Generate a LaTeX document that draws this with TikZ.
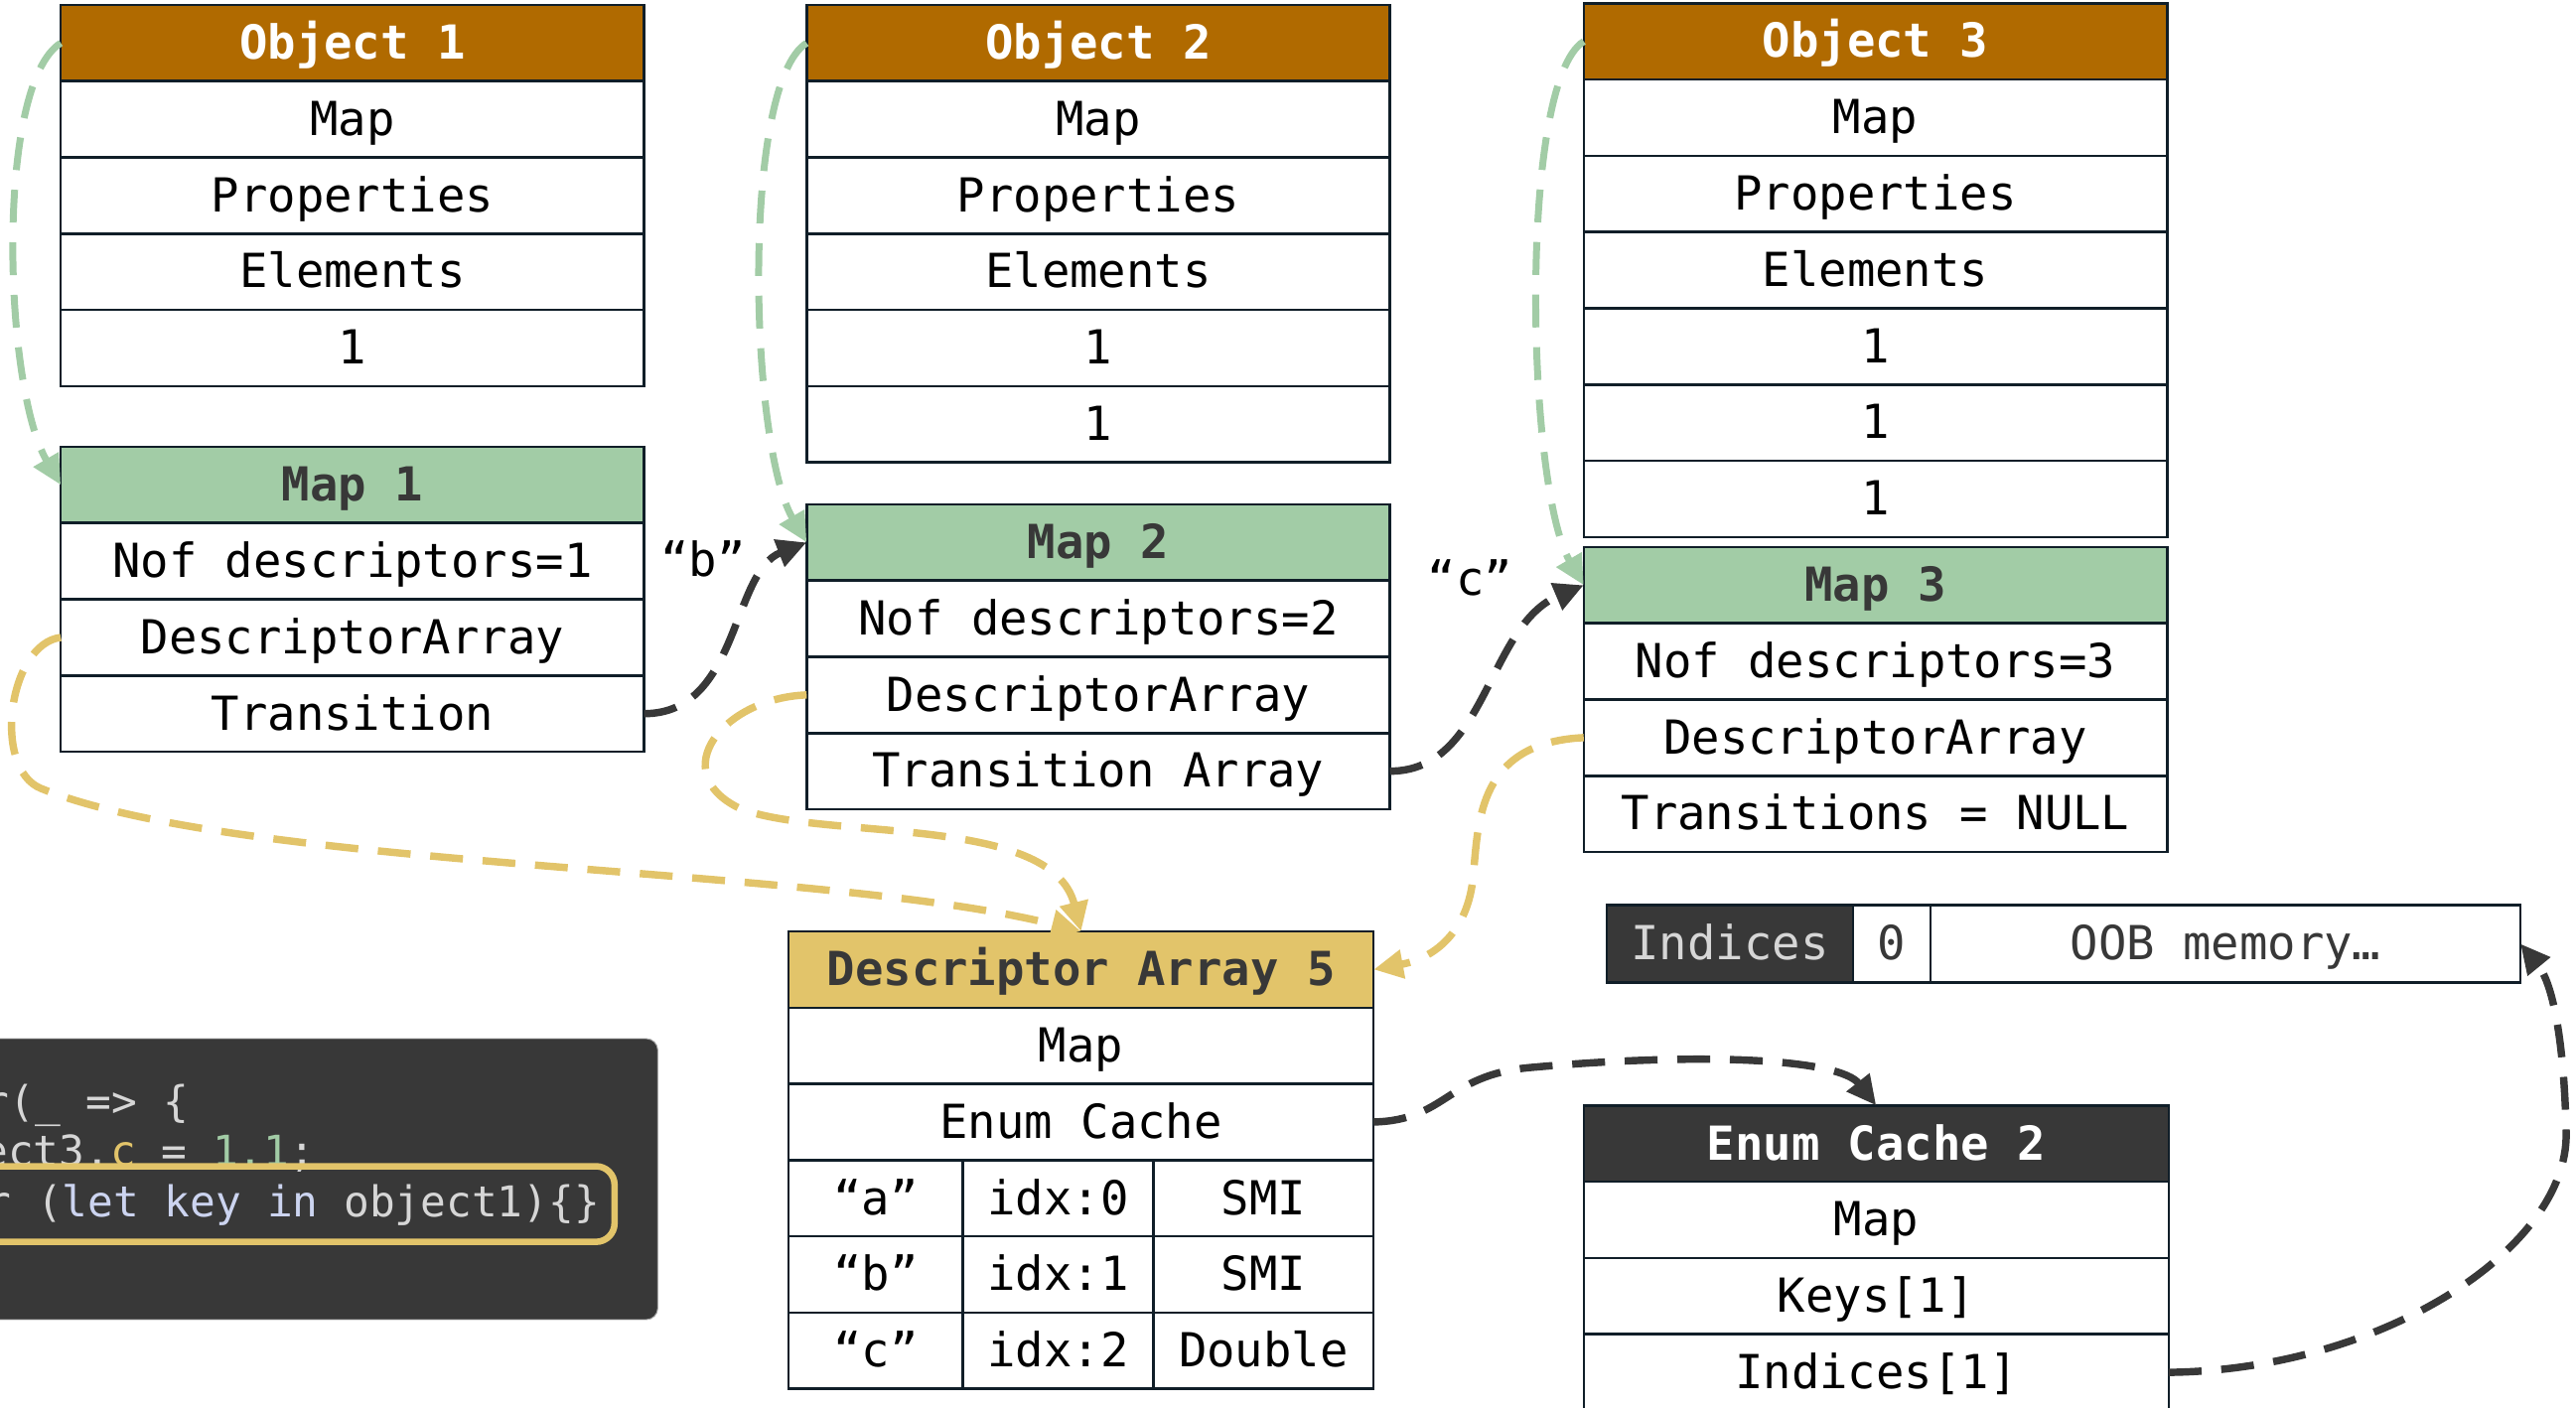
\documentclass[tikz,border=0pt]{standalone}
\usepackage{fontspec}
\setmonofont{DejaVu Sans Mono}
\usetikzlibrary{arrows.meta,positioning}
\definecolor{ObjBrown}{RGB}{176,106,0}
\definecolor{MapGreen}{RGB}{162,204,166}
\definecolor{DescYellow}{RGB}{226,196,106}
\definecolor{InkGray}{RGB}{56,56,56}
\definecolor{EdgeInk}{RGB}{16,30,40}
\definecolor{CodeText}{RGB}{214,214,214}
\definecolor{CodeKey}{RGB}{204,212,240}
\newcommand{\cellfont}{\ttfamily\fontsize{20.3}{24}\selectfont}
\newcommand{\codefont}{\ttfamily\fontsize{18.4}{22}\selectfont}
\tikzset{
  cell/.style={draw=EdgeInk,fill=white,line width=1.1pt,outer sep=0pt,inner sep=0pt,
    minimum width=8.875cm,minimum height=1.16cm,text height=18.5pt,text depth=4.5pt,font=\cellfont},
  objhead/.style={cell,fill=ObjBrown,text=white,font=\cellfont\bfseries},
  maphead/.style={cell,fill=MapGreen,text=InkGray,font=\cellfont\bfseries},
  deschead/.style={cell,fill=DescYellow,text=InkGray,font=\cellfont\bfseries,minimum width=8.9cm},
  cachehead/.style={cell,fill=InkGray,text=white,font=\cellfont\bfseries,minimum width=8.9cm},
  codeline/.style={inner sep=0pt,anchor=base west,font=\codefont,text=CodeText},
  tag/.style={font=\cellfont,inner sep=1pt},
  greenlink/.style={draw=MapGreen,line width=3pt,dash pattern=on 0.5cm off 0.3cm,
    -{Triangle[length=0.45cm,width=0.42cm]}},
  yellowlink/.style={draw=DescYellow,line width=3.2pt,dash pattern=on 0.5cm off 0.3cm,
    -{Triangle[length=0.45cm,width=0.42cm]}},
  darklink/.style={draw=InkGray,line width=3.2pt,dash pattern=on 0.5cm off 0.3cm,
    -{Triangle[length=0.45cm,width=0.42cm]}}
}

\begin{document}
\begin{tikzpicture}[x=0.025cm,y=-0.025cm]
  \useasboundingbox (0,0) rectangle (1568,857);

  % code snippet
  \node[fill=InkGray,draw=gray!70,rounded corners=5pt,minimum width=10.5cm,minimum height=4.275cm,
    anchor=north west] (panel) at (-20,632) {};
  \node[codeline] (line1) at (-10,680) {r(\_ => \{};
  \node[codeline] (line2) at (-11,710) {ect3.\textcolor{DescYellow}{c} = \textcolor{MapGreen}{1.1};};
  \node[draw=DescYellow,line width=2.8pt,rounded corners=8pt,minimum width=9.8cm,minimum height=1.15cm,
    anchor=north west] (loop) at (-20,708) {};
  \node[codeline] (line3) at (-9,741) {r (\textcolor{CodeKey}{let key in} object1)\{\}};

  % objects and maps
  \node[objhead,anchor=north west] (obj1) at (37,3) {Object 1};
  \node[cell,below=0pt of obj1] (obj1map) {Map};
  \node[cell,below=0pt of obj1map] (obj1prop) {Properties};
  \node[cell,below=0pt of obj1prop] (obj1elem) {Elements};
  \node[cell,below=0pt of obj1elem] (obj1a) {1};

  \node[maphead,anchor=north west] (map1) at (37,272) {Map 1};
  \node[cell,below=0pt of map1] (map1nof) {Nof descriptors=1};
  \node[cell,below=0pt of map1nof] (map1desc) {DescriptorArray};
  \node[cell,below=0pt of map1desc] (map1tr) {Transition};

  \node[objhead,anchor=north west] (obj2) at (491,3) {Object 2};
  \node[cell,below=0pt of obj2] (obj2map) {Map};
  \node[cell,below=0pt of obj2map] (obj2prop) {Properties};
  \node[cell,below=0pt of obj2prop] (obj2elem) {Elements};
  \node[cell,below=0pt of obj2elem] (obj2a) {1};
  \node[cell,below=0pt of obj2a] (obj2b) {1};

  \node[maphead,anchor=north west] (map2) at (491,307) {Map 2};
  \node[cell,below=0pt of map2] (map2nof) {Nof descriptors=2};
  \node[cell,below=0pt of map2nof] (map2desc) {DescriptorArray};
  \node[cell,below=0pt of map2desc] (map2tr) {Transition Array};

  \node[objhead,anchor=north west] (obj3) at (964,2) {Object 3};
  \node[cell,below=0pt of obj3] (obj3map) {Map};
  \node[cell,below=0pt of obj3map] (obj3prop) {Properties};
  \node[cell,below=0pt of obj3prop] (obj3elem) {Elements};
  \node[cell,below=0pt of obj3elem] (obj3a) {1};
  \node[cell,below=0pt of obj3a] (obj3b) {1};
  \node[cell,below=0pt of obj3b] (obj3c) {1};

  \node[maphead,anchor=north west] (map3) at (964,333) {Map 3};
  \node[cell,below=0pt of map3] (map3nof) {Nof descriptors=3};
  \node[cell,below=0pt of map3nof] (map3desc) {DescriptorArray};
  \node[cell,below=0pt of map3desc] (map3tr) {Transitions = NULL};

  % descriptor array
  \node[deschead,anchor=north west] (da5) at (480,567) {Descriptor Array 5};
  \node[cell,minimum width=8.9cm,below=0pt of da5] (da5map) {Map};
  \node[cell,minimum width=8.9cm,below=0pt of da5map] (da5enum) {Enum Cache};
  \node[cell,minimum width=2.65cm,below=0pt of da5enum.south west,anchor=north west] (keya) {“a”};
  \node[cell,minimum width=2.9cm,right=0pt of keya] (idxa) {idx:0};
  \node[cell,minimum width=3.35cm,right=0pt of idxa] (typea) {SMI};
  \node[cell,minimum width=2.65cm,below=0pt of keya] (keyb) {“b”};
  \node[cell,minimum width=2.9cm,right=0pt of keyb] (idxb) {idx:1};
  \node[cell,minimum width=3.35cm,right=0pt of idxb] (typeb) {SMI};
  \node[cell,minimum width=2.65cm,below=0pt of keyb] (keyc) {“c”};
  \node[cell,minimum width=2.9cm,right=0pt of keyc] (idxc) {idx:2};
  \node[cell,minimum width=3.35cm,right=0pt of idxc] (typec) {Double};

  % enum cache and indices
  \node[cell,fill=InkGray,text=CodeText,minimum width=3.75cm,minimum height=1.175cm,
    anchor=north west] (idxlabel) at (978,551) {Indices};
  \node[cell,text=InkGray,minimum width=1.175cm,minimum height=1.175cm,right=0pt of idxlabel] (idxzero) {0};
  \node[cell,text=InkGray,minimum width=8.975cm,minimum height=1.175cm,right=0pt of idxzero] (oob) {OOB memory…};

  \node[cachehead,anchor=north west] (ec2) at (964,673) {Enum Cache 2};
  \node[cell,minimum width=8.9cm,below=0pt of ec2] (ec2map) {Map};
  \node[cell,minimum width=8.9cm,below=0pt of ec2map] (ec2keys) {Keys[1]};
  \node[cell,minimum width=8.9cm,below=0pt of ec2keys] (ec2idx) {Indices[1]};

  % maps of objects
  \draw[greenlink] (obj1.west) .. controls +(-40,25) and +(-35,-60) .. (map1.west);
  \draw[greenlink] (obj2.west) .. controls +(-40,25) and +(-35,-60) .. (map2.west);
  \draw[greenlink] (obj3.west) .. controls +(-40,25) and +(-35,-60) .. (map3.west);

  % transitions
  \draw[darklink] (map1tr.east) .. controls +(58,0) and +(-46,18) .. (map2.west);
  \node[tag] (lblb) at (428,340) {“b”};
  \draw[darklink] (map2tr.east) .. controls +(59,0) and +(-59,25) .. (map3.west);
  \node[tag] (lblc) at (895,352) {“c”};

  % shared descriptor array
  \draw[yellowlink] (map1desc.west) .. controls (5,392) and (-5,468) .. (25,480)
    .. controls (150,530) and (500,527) .. (da5.north);
  \draw[yellowlink] (map2desc.west) .. controls (440,425) and (405,470) .. (450,492)
    .. controls (500,512) and (640,495) .. (da5.north);
  \draw[yellowlink] (map3desc.west) .. controls (900,452) and (900,500) .. (897,530)
    .. controls (895,565) and (875,583) .. (da5.east);

  % enum cache
  \draw[darklink] (da5enum.east) .. controls (880,682) and (880,655) .. (930,650)
    .. controls (1040,640) and (1120,645) .. (ec2.north);
  \draw[darklink] (ec2idx.east) .. controls (1450,834) and (1563,760) .. (1562,690)
    .. controls (1561,640) and (1555,600) .. (oob.east);
\end{tikzpicture}
\end{document}
